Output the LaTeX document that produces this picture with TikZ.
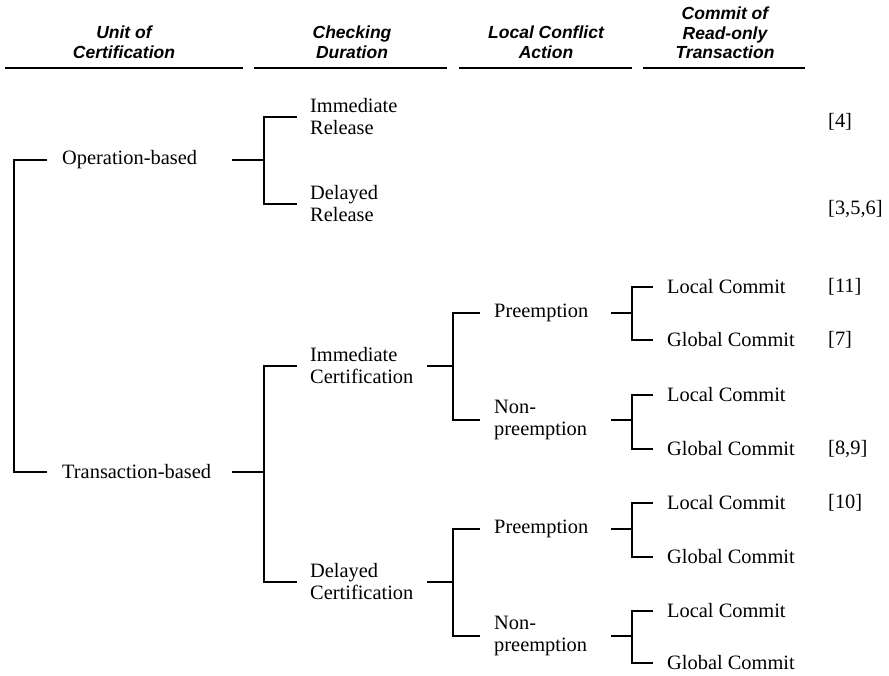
\documentclass[tikz,border=0pt]{standalone}
\usepackage{fontspec}
\setmainfont{Liberation Serif}
\setsansfont{Liberation Sans}
\usepackage{tikz}
\usetikzlibrary{positioning, calc}

\begin{document}
\begin{tikzpicture}[
    x=1pt, y=-1pt,
    % Node styles
    leaf/.style={anchor=west, inner sep=0pt, align=left, font=\fontsize{20.4}{22}\selectfont},
    colhead/.style={align=center, inner sep=0pt, font=\fontsize{17.5}{19.5}\selectfont\sffamily\bfseries\itshape},
    citation/.style={anchor=west, inner sep=0pt, font=\fontsize{20.4}{22}\selectfont},
    branch/.style={line width=1.1pt},
    headrule/.style={line width=1.2pt}
]
\useasboundingbox (0,0) rectangle (889,676);

% Column headers
\node[colhead] (hunit) at (124,42) {Unit of\\Certification};
\node[colhead] (hcheck) at (352,42) {Checking\\Duration};
\node[colhead] (hlocal) at (546,42) {Local Conflict\\Action};
\node[colhead] (hcommit) at (725,33) {Commit of\\Read-only\\Transaction};

% Rules under headers
\draw[headrule] (5,68) -- (243,68);
\draw[headrule] (254,68) -- (447,68);
\draw[headrule] (459,68) -- (632,68);
\draw[headrule] (643,68) -- (805,68);

% Column positions of the branches
\coordinate (b0) at (14,0);
\coordinate (e0) at (47,0);
\coordinate (s1) at (232,0);
\coordinate (b1) at (264,0);
\coordinate (e1) at (297,0);
\coordinate (s2) at (427,0);
\coordinate (b2) at (453,0);
\coordinate (e2) at (480,0);
\coordinate (s3) at (611,0);
\coordinate (b3) at (632,0);
\coordinate (e3) at (653,0);

% UNIT OF CERTIFICATION
\node[leaf] (opbased) at (62,160) {Operation-based};
\node[leaf] (trbased) at (62,472) {Transaction-based};

\draw[branch] (opbased -| e0) -- (opbased -| b0) -- (trbased -| b0) -- (trbased -| e0);

% CHECKING DURATION
\node[leaf] (imrel) at (310,117) {Immediate\\Release};
\node[leaf] (dlrel) at (310,204) {Delayed\\Release};
\node[leaf] (imcert) at (310,366) {Immediate\\Certification};
\node[leaf] (dlcert) at (310,582) {Delayed\\Certification};

\draw[branch] (opbased -| s1) -- (opbased -| b1);
\draw[branch] (imrel -| e1) -- (imrel -| b1) -- (dlrel -| b1) -- (dlrel -| e1);
\draw[branch] (trbased -| s1) -- (trbased -| b1);
\draw[branch] (imcert -| e1) -- (imcert -| b1) -- (dlcert -| b1) -- (dlcert -| e1);

% LOCAL CONFLICT ACTION
\node[leaf] (preA) at (494,313) {Preemption};
\node[leaf] (nonA) at (494,420) {Non-\\preemption};
\node[leaf] (preB) at (494,529) {Preemption};
\node[leaf] (nonB) at (494,636) {Non-\\preemption};

\draw[branch] (imcert -| s2) -- (imcert -| b2);
\draw[branch] (preA -| e2) -- (preA -| b2) -- (nonA -| b2) -- (nonA -| e2);
\draw[branch] (dlcert -| s2) -- (dlcert -| b2);
\draw[branch] (preB -| e2) -- (preB -| b2) -- (nonB -| b2) -- (nonB -| e2);

% COMMIT OF READ-ONLY TRANSACTION
\node[leaf] (locA) at (667,287) {Local Commit};
\node[leaf] (gloA) at (667,340) {Global Commit};
\node[leaf] (locB) at (667,395) {Local Commit};
\node[leaf] (gloB) at (667,449) {Global Commit};
\node[leaf] (locC) at (667,503) {Local Commit};
\node[leaf] (gloC) at (667,557) {Global Commit};
\node[leaf] (locD) at (667,611) {Local Commit};
\node[leaf] (gloD) at (667,663) {Global Commit};

\draw[branch] (preA -| s3) -- (preA -| b3);
\draw[branch] (locA -| e3) -- (locA -| b3) -- (gloA -| b3) -- (gloA -| e3);
\draw[branch] (nonA -| s3) -- (nonA -| b3);
\draw[branch] (locB -| e3) -- (locB -| b3) -- (gloB -| b3) -- (gloB -| e3);
\draw[branch] (preB -| s3) -- (preB -| b3);
\draw[branch] (locC -| e3) -- (locC -| b3) -- (gloC -| b3) -- (gloC -| e3);
\draw[branch] (nonB -| s3) -- (nonB -| b3);
\draw[branch] (locD -| e3) -- (locD -| b3) -- (gloD -| b3) -- (gloD -| e3);

% References
\node[citation] (ref4) at (828,122) {[4]};
\node[citation] (ref356) at (828,209) {[3,5,6]};
\node[citation] (ref11) at (828,287) {[11]};
\node[citation] (ref7) at (828,340) {[7]};
\node[citation] (ref89) at (828,449) {[8,9]};
\node[citation] (ref10) at (828,503) {[10]};

\end{tikzpicture}
\end{document}
